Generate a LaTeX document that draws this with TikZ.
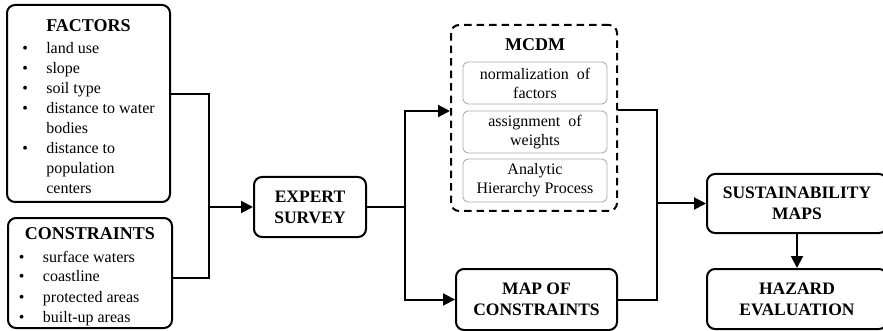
\documentclass[tikz,border=0pt]{standalone}
\usepackage{fontspec}
\setmainfont{Liberation Serif}
\usetikzlibrary{arrows.meta}
\tikzset{
  box/.style={draw,line width=2pt,rounded corners=8pt,align=center,inner sep=0pt,
    font=\bfseries\fontsize{17.5}{21}\selectfont},
  listbox/.style={draw,line width=2pt,rounded corners=8pt,inner sep=0pt,
    font=\fontsize{16}{20}\selectfont},
  dashbox/.style={draw,line width=2pt,rounded corners=8pt,dash pattern=on 7.5pt off 5pt,
    minimum width=166pt,minimum height=186pt},
  subbox/.style={draw=gray!65,line width=0.9pt,rounded corners=5pt,align=center,inner sep=0pt,
    minimum width=144pt,minimum height=42pt,font=\fontsize{16}{19}\selectfont},
  conn/.style={line width=2pt},
  flow/.style={conn,-{Triangle[length=12pt,width=12pt]}},
}
\newcommand{\bul}{\textbullet}
\begin{document}
\begin{tikzpicture}[x=1pt,y=-1pt]
\useasboundingbox (0,0) rectangle (883,331);
% inputs
\node[listbox,minimum width=163pt,minimum height=197pt] (factors) at (88.5,103.5) {%
  \begin{tabular}{@{}p{24pt}@{}l@{}}
  \multicolumn{2}{c}{\rule{0pt}{24pt}\bfseries\fontsize{18}{20}\selectfont FACTORS}\\[2pt]
  \bul & land use\\
  \bul & slope\\
  \bul & soil type\\
  \bul & distance to water\\
       & bodies\\
  \bul & distance to\\
       & population\\
       & centers
  \end{tabular}};
\node[listbox,minimum width=164pt,minimum height=110pt] (constraints) at (90,273) {%
  \begin{tabular}{@{}p{24pt}@{}l@{}}
  \multicolumn{2}{c}{\rule{0pt}{21pt}\bfseries\fontsize{18}{20}\selectfont CONSTRAINTS}\\[3pt]
  \bul & surface waters\\
  \bul & coastline\\
  \bul & protected areas\\
  \bul & built-up areas
  \end{tabular}};
\node[box,minimum width=112pt,minimum height=60pt] (expert) at (310,207) {EXPERT\\SURVEY};
% mcdm block
\node[dashbox] (mcdm) at (534,118) {};
\node[font=\bfseries\fontsize{18}{20}\selectfont] (mcdmlbl) at (535,45) {MCDM};
\node[subbox] (norm) at (535,83) {normalization\ \ of\\factors};
\node[subbox] (weights) at (535,132) {assignment\ \ of\\weights};
\node[subbox,minimum height=43pt] (ahp) at (535,180.5) {Analytic\\Hierarchy Process};
\node[box,minimum width=161pt,minimum height=61pt] (map) at (536.5,299.5) {MAP OF\\CONSTRAINTS};
% outputs
\node[box,minimum width=180pt,minimum height=59pt] (sust) at (797,203.5) {SUSTAINABILITY\\MAPS};
\node[box,minimum width=180pt,minimum height=60pt] (hazard) at (797,299) {HAZARD\\EVALUATION};
% connectors
\coordinate (join1) at (209,207);
\coordinate (join2) at (405,207);
\coordinate (join3) at (657,203.5);
\draw[conn] ([yshift=9.5pt]factors.east) -| (join1);
\draw[conn] ([yshift=-5pt]constraints.east) -| (join1);
\draw[flow] (join1) -- (expert.west);
\draw[conn] (expert.east) -- (join2);
\draw[flow] (join2) |- ([yshift=7pt]mcdm.west);
\draw[flow] (join2) |- (map.west);
\draw[conn] ([yshift=8pt]mcdm.east) -| (join3);
\draw[conn] (map.east) -| (join3);
\draw[flow] (join3) -- (sust.west);
\draw[flow] (sust.south) -- (hazard.north);
\end{tikzpicture}
\end{document}
